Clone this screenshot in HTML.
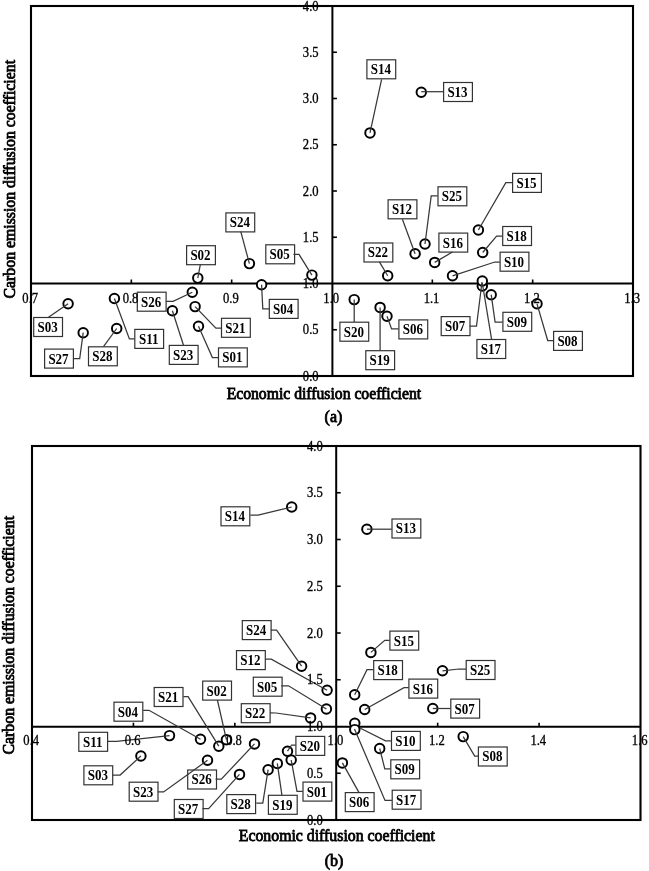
<!DOCTYPE html>
<html><head><meta charset="utf-8"><style>
html,body{margin:0;padding:0;background:#fff;width:649px;height:871px;overflow:hidden}
svg{display:block;filter:grayscale(1)}
text{font-family:"Liberation Serif", serif;fill:#000}
.lb{font-size:13px;font-weight:bold;text-anchor:middle}
.tk{font-size:13px;font-weight:normal;text-anchor:middle;stroke:#000;stroke-width:0.3px}
.tky{font-size:13px;font-weight:normal;text-anchor:end;stroke:#000;stroke-width:0.3px}
.xt{font-size:16px;font-weight:normal;text-anchor:middle;stroke:#000;stroke-width:0.8px}
.cap{font-size:16px;text-anchor:middle;stroke:#000;stroke-width:0.8px}
.yt{font-size:15.8px;font-weight:normal;text-anchor:middle;stroke:#000;stroke-width:0.8px}
</style></head><body>
<svg width="649" height="871" viewBox="0 0 649 871">
<rect width="649" height="871" fill="#fff"/>
<line x1="31" y1="283.5" x2="633" y2="283.5" stroke="#000" stroke-width="2"/>
<line x1="332.4" y1="6" x2="332.4" y2="376" stroke="#000" stroke-width="2"/>
<line x1="131.33" y1="279.5" x2="131.33" y2="283.5" stroke="#000" stroke-width="1.6"/>
<line x1="231.67" y1="279.5" x2="231.67" y2="283.5" stroke="#000" stroke-width="1.6"/>
<line x1="432.33" y1="279.5" x2="432.33" y2="283.5" stroke="#000" stroke-width="1.6"/>
<line x1="532.67" y1="279.5" x2="532.67" y2="283.5" stroke="#000" stroke-width="1.6"/>
<line x1="332.4" y1="329.75" x2="336.9" y2="329.75" stroke="#000" stroke-width="1.6"/>
<line x1="332.4" y1="237.25" x2="336.9" y2="237.25" stroke="#000" stroke-width="1.6"/>
<line x1="332.4" y1="191" x2="336.9" y2="191" stroke="#000" stroke-width="1.6"/>
<line x1="332.4" y1="144.75" x2="336.9" y2="144.75" stroke="#000" stroke-width="1.6"/>
<line x1="332.4" y1="98.5" x2="336.9" y2="98.5" stroke="#000" stroke-width="1.6"/>
<line x1="332.4" y1="52.25" x2="336.9" y2="52.25" stroke="#000" stroke-width="1.6"/>
<rect x="31" y="6" width="602" height="370" fill="none" stroke="#000" stroke-width="2.1"/>
<circle cx="198.5" cy="326.2" r="4.75" fill="#fff" stroke="#000" stroke-width="1.95"/>
<circle cx="197.8" cy="278.1" r="4.75" fill="#fff" stroke="#000" stroke-width="1.95"/>
<circle cx="68.1" cy="303.8" r="4.75" fill="#fff" stroke="#000" stroke-width="1.95"/>
<circle cx="261.6" cy="284.7" r="4.75" fill="#fff" stroke="#000" stroke-width="1.95"/>
<circle cx="311.9" cy="275.1" r="4.75" fill="#fff" stroke="#000" stroke-width="1.95"/>
<circle cx="387" cy="316.2" r="4.75" fill="#fff" stroke="#000" stroke-width="1.95"/>
<circle cx="482.3" cy="285.9" r="4.75" fill="#fff" stroke="#000" stroke-width="1.95"/>
<circle cx="482.3" cy="281" r="4.75" fill="#fff" stroke="#000" stroke-width="1.95"/>
<circle cx="537" cy="303.8" r="4.75" fill="#fff" stroke="#000" stroke-width="1.95"/>
<circle cx="491.2" cy="294.7" r="4.75" fill="#fff" stroke="#000" stroke-width="1.95"/>
<circle cx="452.5" cy="275.8" r="4.75" fill="#fff" stroke="#000" stroke-width="1.95"/>
<circle cx="114.4" cy="298.5" r="4.75" fill="#fff" stroke="#000" stroke-width="1.95"/>
<circle cx="415.1" cy="253.7" r="4.75" fill="#fff" stroke="#000" stroke-width="1.95"/>
<circle cx="421.3" cy="92.2" r="4.75" fill="#fff" stroke="#000" stroke-width="1.95"/>
<circle cx="370" cy="132.9" r="4.75" fill="#fff" stroke="#000" stroke-width="1.95"/>
<circle cx="478.4" cy="230" r="4.75" fill="#fff" stroke="#000" stroke-width="1.95"/>
<circle cx="434.7" cy="262.4" r="4.75" fill="#fff" stroke="#000" stroke-width="1.95"/>
<circle cx="482.7" cy="252.5" r="4.75" fill="#fff" stroke="#000" stroke-width="1.95"/>
<circle cx="380.1" cy="307.4" r="4.75" fill="#fff" stroke="#000" stroke-width="1.95"/>
<circle cx="354.2" cy="299.6" r="4.75" fill="#fff" stroke="#000" stroke-width="1.95"/>
<circle cx="195.1" cy="306.6" r="4.75" fill="#fff" stroke="#000" stroke-width="1.95"/>
<circle cx="387.7" cy="275.7" r="4.75" fill="#fff" stroke="#000" stroke-width="1.95"/>
<circle cx="172.4" cy="310.7" r="4.75" fill="#fff" stroke="#000" stroke-width="1.95"/>
<circle cx="249.4" cy="263.6" r="4.75" fill="#fff" stroke="#000" stroke-width="1.95"/>
<circle cx="425" cy="244" r="4.75" fill="#fff" stroke="#000" stroke-width="1.95"/>
<circle cx="192.3" cy="292.2" r="4.75" fill="#fff" stroke="#000" stroke-width="1.95"/>
<circle cx="83.2" cy="332.7" r="4.75" fill="#fff" stroke="#000" stroke-width="1.95"/>
<circle cx="116.7" cy="328.5" r="4.75" fill="#fff" stroke="#000" stroke-width="1.95"/>
<rect x="218.5" y="347.9" width="28.8" height="19" fill="#fff" stroke="#333" stroke-width="1.2"/>
<text transform="translate(232.4,362.3) scale(1,1.07)" class="lb">S01</text>
<rect x="186.6" y="245.7" width="28.8" height="19" fill="#fff" stroke="#333" stroke-width="1.2"/>
<text transform="translate(200.5,260.1) scale(1,1.07)" class="lb">S02</text>
<rect x="33.7" y="317.5" width="28.8" height="19" fill="#fff" stroke="#333" stroke-width="1.2"/>
<text transform="translate(47.6,331.9) scale(1,1.07)" class="lb">S03</text>
<rect x="269.3" y="299.4" width="28.8" height="19" fill="#fff" stroke="#333" stroke-width="1.2"/>
<text transform="translate(283.2,313.8) scale(1,1.07)" class="lb">S04</text>
<rect x="265.8" y="244.8" width="28.8" height="19" fill="#fff" stroke="#333" stroke-width="1.2"/>
<text transform="translate(279.7,259.2) scale(1,1.07)" class="lb">S05</text>
<rect x="398.9" y="319.9" width="28.8" height="19" fill="#fff" stroke="#333" stroke-width="1.2"/>
<text transform="translate(412.8,334.3) scale(1,1.07)" class="lb">S06</text>
<rect x="441.2" y="316.6" width="28.8" height="19" fill="#fff" stroke="#333" stroke-width="1.2"/>
<text transform="translate(455.1,331) scale(1,1.07)" class="lb">S07</text>
<rect x="553.6" y="331.4" width="28.8" height="19" fill="#fff" stroke="#333" stroke-width="1.2"/>
<text transform="translate(567.5,345.8) scale(1,1.07)" class="lb">S08</text>
<rect x="502.9" y="312.3" width="28.8" height="19" fill="#fff" stroke="#333" stroke-width="1.2"/>
<text transform="translate(516.8,326.7) scale(1,1.07)" class="lb">S09</text>
<rect x="500.1" y="252.2" width="28.8" height="19" fill="#fff" stroke="#333" stroke-width="1.2"/>
<text transform="translate(514,266.6) scale(1,1.07)" class="lb">S10</text>
<rect x="134.8" y="329.4" width="28.8" height="19" fill="#fff" stroke="#333" stroke-width="1.2"/>
<text transform="translate(148.7,343.8) scale(1,1.07)" class="lb">S11</text>
<rect x="388.1" y="199.8" width="28.8" height="19" fill="#fff" stroke="#333" stroke-width="1.2"/>
<text transform="translate(402,214.2) scale(1,1.07)" class="lb">S12</text>
<rect x="443.6" y="82.5" width="28.8" height="19" fill="#fff" stroke="#333" stroke-width="1.2"/>
<text transform="translate(457.5,96.9) scale(1,1.07)" class="lb">S13</text>
<rect x="366.9" y="59.8" width="28.8" height="19" fill="#fff" stroke="#333" stroke-width="1.2"/>
<text transform="translate(380.8,74.2) scale(1,1.07)" class="lb">S14</text>
<rect x="512.6" y="173.4" width="28.8" height="19" fill="#fff" stroke="#333" stroke-width="1.2"/>
<text transform="translate(526.5,187.8) scale(1,1.07)" class="lb">S15</text>
<rect x="438.9" y="233.1" width="28.8" height="19" fill="#fff" stroke="#333" stroke-width="1.2"/>
<text transform="translate(452.8,247.5) scale(1,1.07)" class="lb">S16</text>
<rect x="476.9" y="339.5" width="28.8" height="19" fill="#fff" stroke="#333" stroke-width="1.2"/>
<text transform="translate(490.8,353.9) scale(1,1.07)" class="lb">S17</text>
<rect x="502.7" y="226.5" width="28.8" height="19" fill="#fff" stroke="#333" stroke-width="1.2"/>
<text transform="translate(516.6,240.9) scale(1,1.07)" class="lb">S18</text>
<rect x="365.8" y="350.7" width="28.8" height="19" fill="#fff" stroke="#333" stroke-width="1.2"/>
<text transform="translate(379.7,365.1) scale(1,1.07)" class="lb">S19</text>
<rect x="339.9" y="322.2" width="28.8" height="19" fill="#fff" stroke="#333" stroke-width="1.2"/>
<text transform="translate(353.8,336.6) scale(1,1.07)" class="lb">S20</text>
<rect x="221.5" y="318.3" width="28.8" height="19" fill="#fff" stroke="#333" stroke-width="1.2"/>
<text transform="translate(235.4,332.7) scale(1,1.07)" class="lb">S21</text>
<rect x="364" y="243" width="28.8" height="19" fill="#fff" stroke="#333" stroke-width="1.2"/>
<text transform="translate(377.9,257.4) scale(1,1.07)" class="lb">S22</text>
<rect x="169.3" y="345.4" width="28.8" height="19" fill="#fff" stroke="#333" stroke-width="1.2"/>
<text transform="translate(183.2,359.8) scale(1,1.07)" class="lb">S23</text>
<rect x="225.9" y="212.9" width="28.8" height="19" fill="#fff" stroke="#333" stroke-width="1.2"/>
<text transform="translate(239.8,227.3) scale(1,1.07)" class="lb">S24</text>
<rect x="438" y="186.8" width="28.8" height="19" fill="#fff" stroke="#333" stroke-width="1.2"/>
<text transform="translate(451.9,201.2) scale(1,1.07)" class="lb">S25</text>
<rect x="137.3" y="292.2" width="28.8" height="19" fill="#fff" stroke="#333" stroke-width="1.2"/>
<text transform="translate(151.2,306.6) scale(1,1.07)" class="lb">S26</text>
<rect x="44.6" y="349.1" width="28.8" height="19" fill="#fff" stroke="#333" stroke-width="1.2"/>
<text transform="translate(58.5,363.5) scale(1,1.07)" class="lb">S27</text>
<rect x="88.5" y="346.8" width="28.8" height="19" fill="#fff" stroke="#333" stroke-width="1.2"/>
<text transform="translate(102.4,361.2) scale(1,1.07)" class="lb">S28</text>
<polyline points="198.5,326.2 212.4,357.6 218.2,357.6" fill="none" stroke="#383838" stroke-width="1.25"/>
<polyline points="200.4,264.2 197.8,278.1" fill="none" stroke="#383838" stroke-width="1.25"/>
<polyline points="48.5,317.3 68.1,303.8" fill="none" stroke="#383838" stroke-width="1.25"/>
<polyline points="261.6,284.7 262.8,308.9 269,308.9" fill="none" stroke="#383838" stroke-width="1.25"/>
<polyline points="293.4,254.3 299,254.3 311.9,275.1" fill="none" stroke="#383838" stroke-width="1.25"/>
<polyline points="387,316.2 391.6,328.9 398.6,328.9" fill="none" stroke="#383838" stroke-width="1.25"/>
<polyline points="469.7,326 476.5,326 482,282" fill="none" stroke="#383838" stroke-width="1.25"/>
<polyline points="537,303.8 547.7,340.5 553.3,340.5" fill="none" stroke="#383838" stroke-width="1.25"/>
<polyline points="491.2,294.7 495.1,322.2 502.6,322.2" fill="none" stroke="#383838" stroke-width="1.25"/>
<polyline points="452.5,275.8 494.8,262 499.8,262" fill="none" stroke="#383838" stroke-width="1.25"/>
<polyline points="114.4,298.5 129.4,338.9 134.5,338.9" fill="none" stroke="#383838" stroke-width="1.25"/>
<polyline points="402.4,219.2 415.1,253.7" fill="none" stroke="#383838" stroke-width="1.25"/>
<polyline points="421.3,91.7 443.3,91.7" fill="none" stroke="#383838" stroke-width="1.25"/>
<polyline points="381.6,79.3 370,132.9" fill="none" stroke="#383838" stroke-width="1.25"/>
<polyline points="478.4,230 505.8,182.6 512.3,182.6" fill="none" stroke="#383838" stroke-width="1.25"/>
<polyline points="434.7,262.4 452.5,252" fill="none" stroke="#383838" stroke-width="1.25"/>
<polyline points="491.6,339.3 482.3,283" fill="none" stroke="#383838" stroke-width="1.25"/>
<polyline points="482.7,252.5 496.6,236 502.4,236" fill="none" stroke="#383838" stroke-width="1.25"/>
<polyline points="380.1,307.4 380.1,350.5" fill="none" stroke="#383838" stroke-width="1.25"/>
<polyline points="354.2,299.6 354.2,322" fill="none" stroke="#383838" stroke-width="1.25"/>
<polyline points="195.1,306.6 215.9,328.1 221.2,328.1" fill="none" stroke="#383838" stroke-width="1.25"/>
<polyline points="379.4,261.9 387.7,275.7" fill="none" stroke="#383838" stroke-width="1.25"/>
<polyline points="172.4,310.7 183.5,345.2" fill="none" stroke="#383838" stroke-width="1.25"/>
<polyline points="240.8,231.7 249.4,263.6" fill="none" stroke="#383838" stroke-width="1.25"/>
<polyline points="425,244 431.2,195.9 437.7,195.9" fill="none" stroke="#383838" stroke-width="1.25"/>
<polyline points="165.9,301.3 173.1,301.3 192.3,292.2" fill="none" stroke="#383838" stroke-width="1.25"/>
<polyline points="73.4,358.6 79.7,358.6 83.2,332.7" fill="none" stroke="#383838" stroke-width="1.25"/>
<polyline points="103.5,346.6 116.7,328.5" fill="none" stroke="#383838" stroke-width="1.25"/>
<text transform="translate(30.2,302.7) scale(0.97,1.06)" class="tk">0.7</text>
<text transform="translate(130.53,302.7) scale(0.97,1.06)" class="tk">0.8</text>
<text transform="translate(230.87,302.7) scale(0.97,1.06)" class="tk">0.9</text>
<text transform="translate(331.2,302.7) scale(0.97,1.06)" class="tk">1.0</text>
<text transform="translate(431.53,302.7) scale(0.97,1.06)" class="tk">1.1</text>
<text transform="translate(531.87,302.7) scale(0.97,1.06)" class="tk">1.2</text>
<text transform="translate(632.2,302.7) scale(0.97,1.06)" class="tk">1.3</text>
<text transform="translate(318.6,380.5) scale(0.97,1.06)" class="tky">0.0</text>
<text transform="translate(318.6,334.25) scale(0.97,1.06)" class="tky">0.5</text>
<text transform="translate(318.6,288) scale(0.97,1.06)" class="tky">1.0</text>
<text transform="translate(318.6,241.75) scale(0.97,1.06)" class="tky">1.5</text>
<text transform="translate(318.6,195.5) scale(0.97,1.06)" class="tky">2.0</text>
<text transform="translate(318.6,149.25) scale(0.97,1.06)" class="tky">2.5</text>
<text transform="translate(318.6,103) scale(0.97,1.06)" class="tky">3.0</text>
<text transform="translate(318.6,56.75) scale(0.97,1.06)" class="tky">3.5</text>
<text transform="translate(318.6,10.5) scale(0.97,1.06)" class="tky">4.0</text>
<line x1="32" y1="726.7" x2="640.5" y2="726.7" stroke="#000" stroke-width="2"/>
<line x1="336.2" y1="446" x2="336.2" y2="820" stroke="#000" stroke-width="2"/>
<line x1="133.42" y1="722.7" x2="133.42" y2="726.7" stroke="#000" stroke-width="1.6"/>
<line x1="234.83" y1="722.7" x2="234.83" y2="726.7" stroke="#000" stroke-width="1.6"/>
<line x1="437.67" y1="722.7" x2="437.67" y2="726.7" stroke="#000" stroke-width="1.6"/>
<line x1="539.08" y1="722.7" x2="539.08" y2="726.7" stroke="#000" stroke-width="1.6"/>
<line x1="336.2" y1="773.25" x2="340.7" y2="773.25" stroke="#000" stroke-width="1.6"/>
<line x1="336.2" y1="679.75" x2="340.7" y2="679.75" stroke="#000" stroke-width="1.6"/>
<line x1="336.2" y1="633" x2="340.7" y2="633" stroke="#000" stroke-width="1.6"/>
<line x1="336.2" y1="586.25" x2="340.7" y2="586.25" stroke="#000" stroke-width="1.6"/>
<line x1="336.2" y1="539.5" x2="340.7" y2="539.5" stroke="#000" stroke-width="1.6"/>
<line x1="336.2" y1="492.75" x2="340.7" y2="492.75" stroke="#000" stroke-width="1.6"/>
<rect x="32" y="446" width="608.5" height="374" fill="none" stroke="#000" stroke-width="2.1"/>
<circle cx="291.2" cy="760" r="4.75" fill="#fff" stroke="#000" stroke-width="1.95"/>
<circle cx="226.4" cy="739.7" r="4.75" fill="#fff" stroke="#000" stroke-width="1.95"/>
<circle cx="140.9" cy="756" r="4.75" fill="#fff" stroke="#000" stroke-width="1.95"/>
<circle cx="200.5" cy="739.2" r="4.75" fill="#fff" stroke="#000" stroke-width="1.95"/>
<circle cx="326.4" cy="709" r="4.75" fill="#fff" stroke="#000" stroke-width="1.95"/>
<circle cx="342.4" cy="762.9" r="4.75" fill="#fff" stroke="#000" stroke-width="1.95"/>
<circle cx="432.8" cy="708.5" r="4.75" fill="#fff" stroke="#000" stroke-width="1.95"/>
<circle cx="463.2" cy="736.6" r="4.75" fill="#fff" stroke="#000" stroke-width="1.95"/>
<circle cx="379.7" cy="748.5" r="4.75" fill="#fff" stroke="#000" stroke-width="1.95"/>
<circle cx="354.8" cy="723.3" r="4.75" fill="#fff" stroke="#000" stroke-width="1.95"/>
<circle cx="354.8" cy="729.6" r="4.75" fill="#fff" stroke="#000" stroke-width="1.95"/>
<circle cx="169.5" cy="735.6" r="4.75" fill="#fff" stroke="#000" stroke-width="1.95"/>
<circle cx="327.1" cy="690.2" r="4.75" fill="#fff" stroke="#000" stroke-width="1.95"/>
<circle cx="366.9" cy="529.2" r="4.75" fill="#fff" stroke="#000" stroke-width="1.95"/>
<circle cx="291.7" cy="507" r="4.75" fill="#fff" stroke="#000" stroke-width="1.95"/>
<circle cx="370.9" cy="652.4" r="4.75" fill="#fff" stroke="#000" stroke-width="1.95"/>
<circle cx="364.7" cy="709.5" r="4.75" fill="#fff" stroke="#000" stroke-width="1.95"/>
<circle cx="354.7" cy="694.7" r="4.75" fill="#fff" stroke="#000" stroke-width="1.95"/>
<circle cx="277.3" cy="763.4" r="4.75" fill="#fff" stroke="#000" stroke-width="1.95"/>
<circle cx="287.5" cy="751.2" r="4.75" fill="#fff" stroke="#000" stroke-width="1.95"/>
<circle cx="218.8" cy="746.2" r="4.75" fill="#fff" stroke="#000" stroke-width="1.95"/>
<circle cx="310.6" cy="717.9" r="4.75" fill="#fff" stroke="#000" stroke-width="1.95"/>
<circle cx="207.5" cy="760.3" r="4.75" fill="#fff" stroke="#000" stroke-width="1.95"/>
<circle cx="301.6" cy="666.2" r="4.75" fill="#fff" stroke="#000" stroke-width="1.95"/>
<circle cx="442.5" cy="670.8" r="4.75" fill="#fff" stroke="#000" stroke-width="1.95"/>
<circle cx="254.5" cy="743.9" r="4.75" fill="#fff" stroke="#000" stroke-width="1.95"/>
<circle cx="239.5" cy="774.4" r="4.75" fill="#fff" stroke="#000" stroke-width="1.95"/>
<circle cx="268.1" cy="769.7" r="4.75" fill="#fff" stroke="#000" stroke-width="1.95"/>
<rect x="303" y="782.1" width="28.8" height="19" fill="#fff" stroke="#333" stroke-width="1.2"/>
<text transform="translate(316.9,796.5) scale(1,1.07)" class="lb">S01</text>
<rect x="202.7" y="681.1" width="28.8" height="19" fill="#fff" stroke="#333" stroke-width="1.2"/>
<text transform="translate(216.6,695.5) scale(1,1.07)" class="lb">S02</text>
<rect x="83.9" y="765.8" width="28.8" height="19" fill="#fff" stroke="#333" stroke-width="1.2"/>
<text transform="translate(97.8,780.2) scale(1,1.07)" class="lb">S03</text>
<rect x="114" y="702.2" width="28.8" height="19" fill="#fff" stroke="#333" stroke-width="1.2"/>
<text transform="translate(127.9,716.6) scale(1,1.07)" class="lb">S04</text>
<rect x="253.3" y="677.2" width="28.8" height="19" fill="#fff" stroke="#333" stroke-width="1.2"/>
<text transform="translate(267.2,691.6) scale(1,1.07)" class="lb">S05</text>
<rect x="345.3" y="792.6" width="28.8" height="19" fill="#fff" stroke="#333" stroke-width="1.2"/>
<text transform="translate(359.2,807) scale(1,1.07)" class="lb">S06</text>
<rect x="450.8" y="699.1" width="28.8" height="19" fill="#fff" stroke="#333" stroke-width="1.2"/>
<text transform="translate(464.7,713.5) scale(1,1.07)" class="lb">S07</text>
<rect x="478.4" y="747" width="28.8" height="19" fill="#fff" stroke="#333" stroke-width="1.2"/>
<text transform="translate(492.3,761.4) scale(1,1.07)" class="lb">S08</text>
<rect x="390.8" y="759.8" width="28.8" height="19" fill="#fff" stroke="#333" stroke-width="1.2"/>
<text transform="translate(404.7,774.2) scale(1,1.07)" class="lb">S09</text>
<rect x="391.5" y="731.4" width="28.8" height="19" fill="#fff" stroke="#333" stroke-width="1.2"/>
<text transform="translate(405.4,745.8) scale(1,1.07)" class="lb">S10</text>
<rect x="78.8" y="732.3" width="28.8" height="19" fill="#fff" stroke="#333" stroke-width="1.2"/>
<text transform="translate(92.7,746.7) scale(1,1.07)" class="lb">S11</text>
<rect x="236.5" y="650.6" width="28.8" height="19" fill="#fff" stroke="#333" stroke-width="1.2"/>
<text transform="translate(250.4,665) scale(1,1.07)" class="lb">S12</text>
<rect x="392" y="519" width="28.8" height="19" fill="#fff" stroke="#333" stroke-width="1.2"/>
<text transform="translate(405.9,533.4) scale(1,1.07)" class="lb">S13</text>
<rect x="221" y="506.8" width="28.8" height="19" fill="#fff" stroke="#333" stroke-width="1.2"/>
<text transform="translate(234.9,521.2) scale(1,1.07)" class="lb">S14</text>
<rect x="389.9" y="631.1" width="28.8" height="19" fill="#fff" stroke="#333" stroke-width="1.2"/>
<text transform="translate(403.8,645.5) scale(1,1.07)" class="lb">S15</text>
<rect x="408.9" y="679.1" width="28.8" height="19" fill="#fff" stroke="#333" stroke-width="1.2"/>
<text transform="translate(422.8,693.5) scale(1,1.07)" class="lb">S16</text>
<rect x="392.2" y="790.2" width="28.8" height="19" fill="#fff" stroke="#333" stroke-width="1.2"/>
<text transform="translate(406.1,804.6) scale(1,1.07)" class="lb">S17</text>
<rect x="373.7" y="660.6" width="28.8" height="19" fill="#fff" stroke="#333" stroke-width="1.2"/>
<text transform="translate(387.6,675) scale(1,1.07)" class="lb">S18</text>
<rect x="268.4" y="795.3" width="28.8" height="19" fill="#fff" stroke="#333" stroke-width="1.2"/>
<text transform="translate(282.3,809.7) scale(1,1.07)" class="lb">S19</text>
<rect x="295.9" y="736.4" width="28.8" height="19" fill="#fff" stroke="#333" stroke-width="1.2"/>
<text transform="translate(309.8,750.8) scale(1,1.07)" class="lb">S20</text>
<rect x="154.2" y="687.5" width="28.8" height="19" fill="#fff" stroke="#333" stroke-width="1.2"/>
<text transform="translate(168.1,701.9) scale(1,1.07)" class="lb">S21</text>
<rect x="241.3" y="703.7" width="28.8" height="19" fill="#fff" stroke="#333" stroke-width="1.2"/>
<text transform="translate(255.2,718.1) scale(1,1.07)" class="lb">S22</text>
<rect x="129.2" y="782.2" width="28.8" height="19" fill="#fff" stroke="#333" stroke-width="1.2"/>
<text transform="translate(143.1,796.6) scale(1,1.07)" class="lb">S23</text>
<rect x="242.3" y="620.6" width="28.8" height="19" fill="#fff" stroke="#333" stroke-width="1.2"/>
<text transform="translate(256.2,635) scale(1,1.07)" class="lb">S24</text>
<rect x="466.2" y="660.5" width="28.8" height="19" fill="#fff" stroke="#333" stroke-width="1.2"/>
<text transform="translate(480.1,674.9) scale(1,1.07)" class="lb">S25</text>
<rect x="187.7" y="770" width="28.8" height="19" fill="#fff" stroke="#333" stroke-width="1.2"/>
<text transform="translate(201.6,784.4) scale(1,1.07)" class="lb">S26</text>
<rect x="174.3" y="799.5" width="28.8" height="19" fill="#fff" stroke="#333" stroke-width="1.2"/>
<text transform="translate(188.2,813.9) scale(1,1.07)" class="lb">S27</text>
<rect x="226.8" y="794.6" width="28.8" height="19" fill="#fff" stroke="#333" stroke-width="1.2"/>
<text transform="translate(240.7,809) scale(1,1.07)" class="lb">S28</text>
<polyline points="291.2,760 297,791.4 302.7,791.4" fill="none" stroke="#383838" stroke-width="1.25"/>
<polyline points="217.4,700 226.4,739.7" fill="none" stroke="#383838" stroke-width="1.25"/>
<polyline points="140.9,756 120.1,775 112.7,775" fill="none" stroke="#383838" stroke-width="1.25"/>
<polyline points="143.2,710.3 149,710.3 200.5,739.2" fill="none" stroke="#383838" stroke-width="1.25"/>
<polyline points="281.2,685.8 288.5,685.8 326.4,709" fill="none" stroke="#383838" stroke-width="1.25"/>
<polyline points="358.9,792.4 342.4,762.9" fill="none" stroke="#383838" stroke-width="1.25"/>
<polyline points="432.8,708.5 450.5,708.5" fill="none" stroke="#383838" stroke-width="1.25"/>
<polyline points="463.2,736.6 474.7,756 478.1,756" fill="none" stroke="#383838" stroke-width="1.25"/>
<polyline points="379.7,748.5 384.8,768.9 390.5,768.9" fill="none" stroke="#383838" stroke-width="1.25"/>
<polyline points="391.2,740.9 385.5,740.9 360,728" fill="none" stroke="#383838" stroke-width="1.25"/>
<polyline points="107,741.3 116.7,741.3 169.5,735.6" fill="none" stroke="#383838" stroke-width="1.25"/>
<polyline points="265.1,659.2 271.3,659.2 327.1,690.2" fill="none" stroke="#383838" stroke-width="1.25"/>
<polyline points="366.9,529.2 391.7,529.2" fill="none" stroke="#383838" stroke-width="1.25"/>
<polyline points="250.3,515 258.1,515 291.7,507" fill="none" stroke="#383838" stroke-width="1.25"/>
<polyline points="370.9,652.4 384.8,640.3 389.6,640.3" fill="none" stroke="#383838" stroke-width="1.25"/>
<polyline points="364.7,709.5 404,687.7 408.6,687.7" fill="none" stroke="#383838" stroke-width="1.25"/>
<polyline points="391.9,800.4 385,800.4 354.5,729" fill="none" stroke="#383838" stroke-width="1.25"/>
<polyline points="354.7,694.7 367,669.7 373.4,669.7" fill="none" stroke="#383838" stroke-width="1.25"/>
<polyline points="281.9,795.1 277.3,763.4" fill="none" stroke="#383838" stroke-width="1.25"/>
<polyline points="295.6,745 291.6,745 287.5,751.2" fill="none" stroke="#383838" stroke-width="1.25"/>
<polyline points="183.4,696.6 188.1,696.6 218.8,746.2" fill="none" stroke="#383838" stroke-width="1.25"/>
<polyline points="270.1,712.8 276,713 310.6,717.9" fill="none" stroke="#383838" stroke-width="1.25"/>
<polyline points="157.8,791.9 163.6,791.9 207.5,760.3" fill="none" stroke="#383838" stroke-width="1.25"/>
<polyline points="270.8,630.1 276.6,630.1 301.6,666.2" fill="none" stroke="#383838" stroke-width="1.25"/>
<polyline points="442.5,670.8 459,669 465.9,669" fill="none" stroke="#383838" stroke-width="1.25"/>
<polyline points="215.6,779.2 221.3,779.2 254.5,743.9" fill="none" stroke="#383838" stroke-width="1.25"/>
<polyline points="202.4,808.6 208.6,808.6 239.5,774.4" fill="none" stroke="#383838" stroke-width="1.25"/>
<polyline points="256.3,803.2 262.8,803.2 268.1,769.7" fill="none" stroke="#383838" stroke-width="1.25"/>
<text transform="translate(31.2,745.4) scale(0.97,1.06)" class="tk">0.4</text>
<text transform="translate(132.62,745.4) scale(0.97,1.06)" class="tk">0.6</text>
<text transform="translate(234.03,745.4) scale(0.97,1.06)" class="tk">0.8</text>
<text transform="translate(335.45,745.4) scale(0.97,1.06)" class="tk">1.0</text>
<text transform="translate(436.87,745.4) scale(0.97,1.06)" class="tk">1.2</text>
<text transform="translate(538.28,745.4) scale(0.97,1.06)" class="tk">1.4</text>
<text transform="translate(639.7,745.4) scale(0.97,1.06)" class="tk">1.6</text>
<text transform="translate(322.8,824.5) scale(0.97,1.06)" class="tky">0.0</text>
<text transform="translate(322.8,777.75) scale(0.97,1.06)" class="tky">0.5</text>
<text transform="translate(322.8,731) scale(0.97,1.06)" class="tky">1.0</text>
<text transform="translate(322.8,684.25) scale(0.97,1.06)" class="tky">1.5</text>
<text transform="translate(322.8,637.5) scale(0.97,1.06)" class="tky">2.0</text>
<text transform="translate(322.8,590.75) scale(0.97,1.06)" class="tky">2.5</text>
<text transform="translate(322.8,544) scale(0.97,1.06)" class="tky">3.0</text>
<text transform="translate(322.8,497.25) scale(0.97,1.06)" class="tky">3.5</text>
<text transform="translate(322.8,450.5) scale(0.97,1.06)" class="tky">4.0</text>
<text x="323.9" y="398.6" class="xt" textLength="194.5" lengthAdjust="spacingAndGlyphs">Economic diffusion coefficient</text>
<text x="333.5" y="422" class="cap">(a)</text>
<text x="336.8" y="841.1" class="xt" textLength="196" lengthAdjust="spacingAndGlyphs">Economic diffusion coefficient</text>
<text x="334" y="866" class="cap">(b)</text>
<text transform="translate(15,179.2) rotate(-90)" class="yt">Carbon emission diffusion coefficient</text>
<text transform="translate(13.6,635.2) rotate(-90)" class="yt">Carbon emission diffusion coefficient</text>
</svg>
</body></html>
